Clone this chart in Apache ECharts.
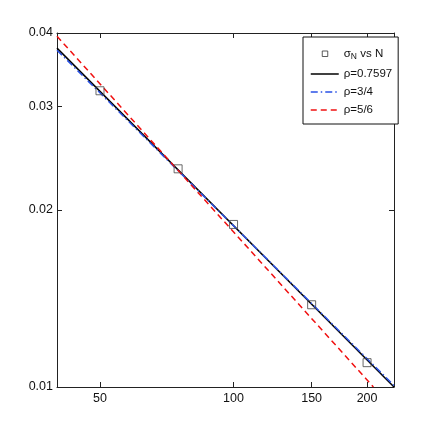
<!DOCTYPE html>
<html>
<head>
<meta charset="utf-8">
<script src="https://cdn.jsdelivr.net/npm/echarts@6/dist/echarts.min.js"></script>
<style>
  html, body { margin: 0; padding: 0; background: #fff; }
  #chart { width: 436px; height: 436px; }
</style>
</head>
<body>
<div id="chart"></div>
<script>
  // measured points (N, sigma_N)
  const nValues = [50, 75, 100, 150, 200]
  const sigmaValues = [0.0319, 0.0235, 0.0189, 0.0138, 0.0110]

  // fitted lines, end points
  const fitN = [40, 230]
  const fitBlack = [0.0377, 0.0100]   // rho = 0.7597
  const fitBlue = [0.0374, 0.01006]   // rho = 3/4
  const redN = [40, 206.7]
  const fitRed = [0.0395, 0.0100]     // rho = 5/6

  // axis ticks
  const xTicks = [50, 100, 150, 200]
  const yTicks = [0.01, 0.02, 0.03, 0.04]
  const xRange = [40, 230]
  const yRange = [0.01, 0.04]

  const FONT = '"Liberation Sans", Arial, sans-serif'
  const lg = Math.log10
  const pairs = (xs, ys) => xs.map((x, i) => [lg(x), lg(ys[i])])

  const chart = echarts.init(document.getElementById('chart'))

  const axisBase = {
    type: 'value',
    axisLine: { show: true, onZero: false, lineStyle: { color: '#222', width: 1 } },
    axisTick: { show: true, inside: true, length: 5, lineStyle: { color: '#222', width: 1 } },
    splitLine: { show: false }
  }

  const xAxisCfg = (pos, showLabel) => ({
    ...axisBase,
    position: pos,
    min: lg(xRange[0]),
    max: lg(xRange[1]),
    axisTick: { ...axisBase.axisTick, customValues: xTicks.map(lg) },
    axisLabel: {
      show: showLabel,
      customValues: xTicks.map(lg),
      margin: 5,
      color: '#111',
      fontFamily: FONT,
      fontSize: 12.5,
      formatter: (v) => String(Math.round(Math.pow(10, v)))
    }
  })

  const yAxisCfg = (pos, showLabel) => ({
    ...axisBase,
    position: pos,
    min: lg(yRange[0]),
    max: lg(yRange[1]),
    axisTick: { ...axisBase.axisTick, customValues: yTicks.map(lg) },
    axisLabel: {
      show: showLabel,
      customValues: yTicks.map(lg),
      margin: 4,
      color: '#111',
      fontFamily: FONT,
      fontSize: 12.5,
      formatter: (v) => Math.pow(10, v).toFixed(2)
    }
  })

  // legend line items: line only, the marker is hidden
  const lineItem = (name) => ({
    name: name,
    itemStyle: { opacity: 0 },
    lineStyle: { width: 1.5 }
  })

  const option = {
    animation: false,
    backgroundColor: '#fff',
    grid: { left: 57, top: 33, width: 337, height: 354 },
    xAxis: [xAxisCfg('bottom', true), xAxisCfg('top', false)],
    yAxis: [yAxisCfg('left', true), yAxisCfg('right', false)],
    legend: {
      orient: 'vertical',
      left: 303,
      top: 37,
      padding: [8, 6, 8, 7],
      itemWidth: 28,
      itemHeight: 12,
      itemGap: 6,
      borderColor: '#111',
      borderWidth: 1,
      backgroundColor: '#fff',
      textStyle: {
        fontFamily: FONT,
        fontSize: 11.5,
        color: '#111',
        rich: {
          g: { fontFamily: FONT, fontSize: 11.5, color: '#111' },
          s: { fontFamily: FONT, fontSize: 8.5, color: '#111', padding: [6, 0, 0, 0] }
        }
      },
      formatter: (name) => name === 'sigma' ? '{g|σ}{s|N}{g| vs N}' : name,
      data: [
        {
          name: 'sigma',
          icon: 'path://M0 0M12 12M3.5 3.5L9 3.5L9 9L3.5 9Z',
          itemStyle: { color: 'none', borderColor: '#333', borderWidth: 1 }
        },
        lineItem('ρ=0.7597'),
        lineItem('ρ=3/4'),
        lineItem('ρ=5/6')
      ]
    },
    series: [
      {
        name: 'sigma',
        type: 'scatter',
        data: pairs(nValues, sigmaValues),
        symbol: 'rect',
        symbolSize: 8,
        itemStyle: { color: 'none', borderColor: '#444', borderWidth: 1 },
        z: 5
      },
      {
        name: 'ρ=0.7597',
        type: 'line',
        data: pairs(fitN, fitBlack),
        symbol: 'none',
        clip: true,
        itemStyle: { color: '#000' },
        lineStyle: { color: '#000', width: 1.5, type: 'solid' }
      },
      {
        name: 'ρ=3/4',
        type: 'line',
        data: pairs(fitN, fitBlue),
        symbol: 'none',
        clip: true,
        itemStyle: { color: '#2a52e6' },
        lineStyle: { color: '#2a52e6', width: 1.5, type: [7, 3, 1.5, 3] }
      },
      {
        name: 'ρ=5/6',
        type: 'line',
        data: pairs(redN, fitRed),
        symbol: 'none',
        clip: true,
        itemStyle: { color: '#f01010' },
        lineStyle: { color: '#f01010', width: 1.5, type: [6, 4] }
      }
    ]
  }

  chart.setOption(option)
</script>
</body>
</html>
